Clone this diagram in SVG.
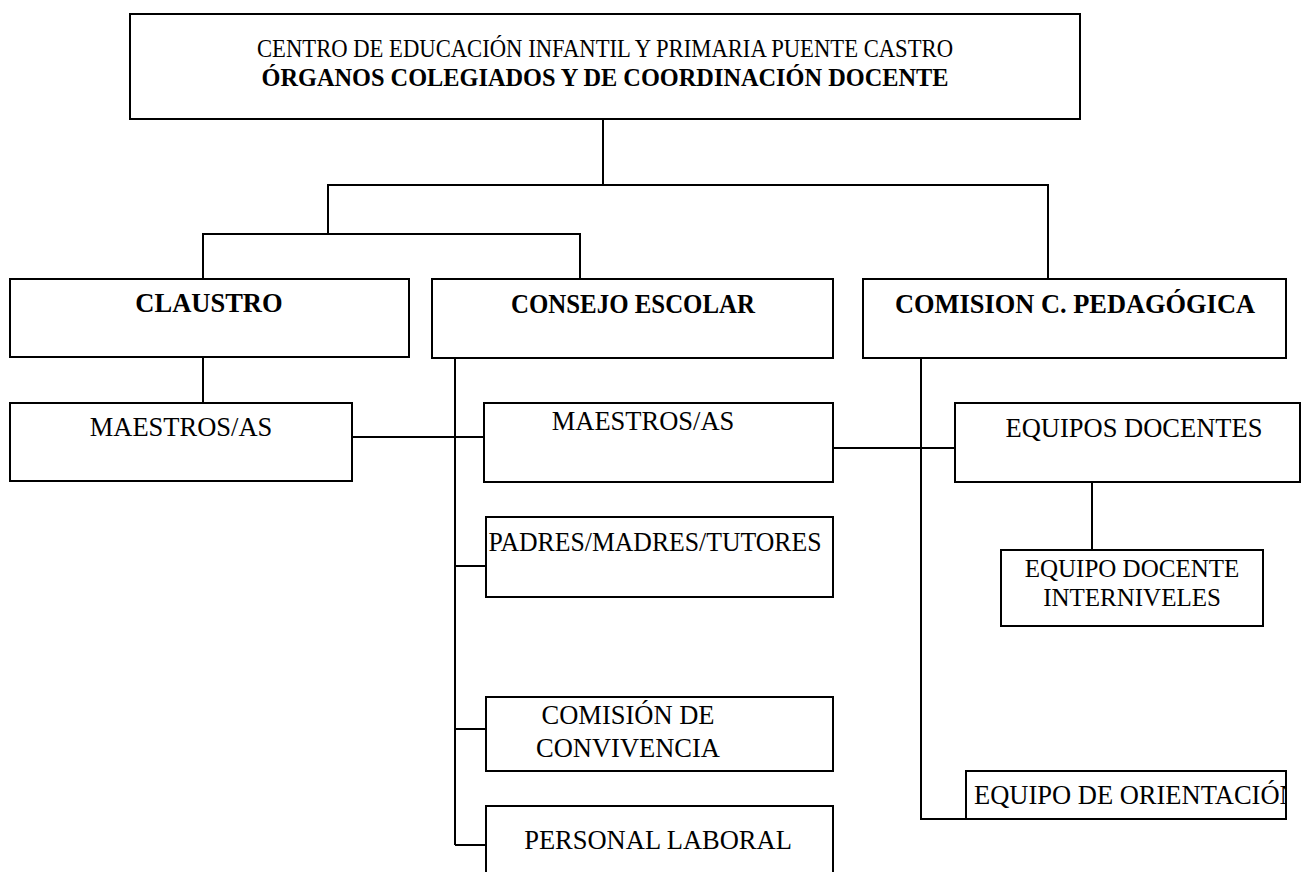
<svg xmlns="http://www.w3.org/2000/svg" width="1304" height="872" viewBox="0 0 1304 872">
<style>
.box{fill:#fff;stroke:#000;stroke-width:2}
.ln{fill:none;stroke:#000;stroke-width:2}
text{font-family:'Liberation Serif','Times New Roman','DejaVu Serif',serif;font-size:26.5px;fill:#000;text-anchor:middle}
.b{font-weight:bold}
.sm{font-size:25px}
.ti{font-size:26px}
</style>
<defs>
<clipPath id="clipOri"><rect x="967" y="772" width="318" height="46"/></clipPath>
</defs>
<rect x="0" y="0" width="1304" height="872" fill="#fff"/>
<g id="connectors">
<polyline class="ln" points="603,119 603,185"/>
<polyline class="ln" points="328,234 328,185 1048,185 1048,279"/>
<polyline class="ln" points="203,279 203,234 580,234 580,279"/>
<polyline class="ln" points="203,357 203,403"/>
<polyline class="ln" points="455,358 455,845"/>
<polyline class="ln" points="352,437 484,437"/>
<polyline class="ln" points="455,566 486,566"/>
<polyline class="ln" points="455,729 486,729"/>
<polyline class="ln" points="455,845 486,845"/>
<polyline class="ln" points="833,448 955,448"/>
<polyline class="ln" points="921,358 921,819 966,819"/>
<polyline class="ln" points="1092,482 1092,550"/>
</g>
<g id="title">
<rect class="box" x="130" y="14" width="950" height="105"/>
<text class="ti" x="605" y="57" textLength="696" lengthAdjust="spacingAndGlyphs">CENTRO DE EDUCACIÓN INFANTIL Y PRIMARIA PUENTE CASTRO</text>
<text class="ti b" x="605" y="86" textLength="687" lengthAdjust="spacingAndGlyphs">ÓRGANOS COLEGIADOS Y DE COORDINACIÓN DOCENTE</text>
</g>
<g id="claustro">
<rect class="box" x="10" y="279" width="399" height="78"/>
<text class="b" x="209" y="312">CLAUSTRO</text>
</g>
<g id="consejo">
<rect class="box" x="432" y="279" width="401" height="79"/>
<text class="b" x="633" y="313" textLength="244" lengthAdjust="spacingAndGlyphs">CONSEJO ESCOLAR</text>
</g>
<g id="comision-pedagogica">
<rect class="box" x="863" y="279" width="423" height="79"/>
<text class="b" x="1075" y="313" textLength="360" lengthAdjust="spacingAndGlyphs">COMISION C. PEDAGÓGICA</text>
</g>
<g id="maestros-claustro">
<rect class="box" x="10" y="403" width="342" height="78"/>
<text x="181" y="436">MAESTROS/AS</text>
</g>
<g id="maestros-consejo">
<rect class="box" x="484" y="403" width="349" height="79"/>
<text x="643" y="430">MAESTROS/AS</text>
</g>
<g id="equipos-docentes">
<rect class="box" x="955" y="403" width="345" height="79"/>
<text x="1134" y="437">EQUIPOS DOCENTES</text>
</g>
<g id="padres">
<rect class="box" x="486" y="517" width="347" height="80"/>
<text x="655" y="551" textLength="333" lengthAdjust="spacingAndGlyphs">PADRES/MADRES/TUTORES</text>
</g>
<g id="interniveles">
<rect class="box" x="1001" y="550" width="262" height="76"/>
<text class="sm" x="1132" y="577">EQUIPO DOCENTE</text>
<text class="sm" x="1132" y="606">INTERNIVELES</text>
</g>
<g id="convivencia">
<rect class="box" x="486" y="697" width="347" height="74"/>
<text x="628" y="724">COMISIÓN DE</text>
<text x="628" y="757">CONVIVENCIA</text>
</g>
<g id="personal-laboral">
<rect class="box" x="486" y="806" width="347" height="80"/>
<text x="658" y="849">PERSONAL LABORAL</text>
</g>
<g id="orientacion">
<rect class="box" x="966" y="771" width="320" height="48"/>
<text x="974" y="804" style="text-anchor:start" clip-path="url(#clipOri)">EQUIPO DE ORIENTACIÓN</text>
</g>
</svg>
